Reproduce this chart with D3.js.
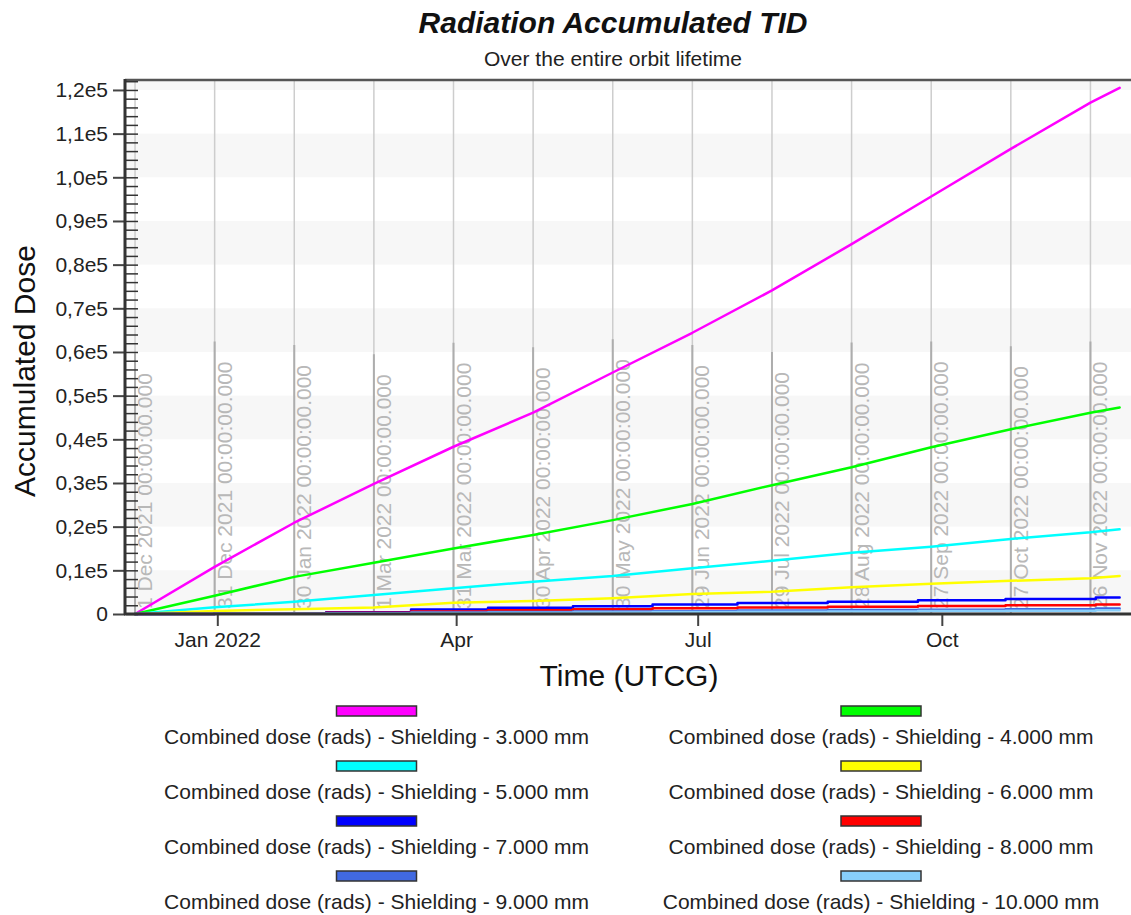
<!DOCTYPE html>
<html>
<head>
<meta charset="utf-8">
<script src="https://cdn.jsdelivr.net/npm/d3@7"></script>
<style>
  body { margin: 0; background: #fff; }
  svg { display: block; font-family: Arial, "Liberation Sans", sans-serif; }
</style>
</head>
<body>
<svg id="chart" width="1131" height="915"></svg>
<script>
// ---- data -------------------------------------------------------------
// Sampling dates for the smooth dose curves (UTC)
const sampleDates = ["2021-12-01","2021-12-31","2022-01-30","2022-03-01","2022-03-31","2022-04-30",
                     "2022-05-30","2022-06-29","2022-07-29","2022-08-28","2022-09-27","2022-10-27",
                     "2022-11-26","2022-12-07"];
const dose3mm = [0, 10800, 20900, 29800, 38300, 46100, 55300, 64400, 74100, 84700, 95600, 106500, 117100, 120500];
const dose4mm = [0, 4200, 8500, 11750, 15000, 18100, 21500, 25200, 29500, 33600, 38200, 42300, 46100, 47300];
const dose5mm = [0, 1530, 2800, 4350, 5900, 7400, 8700, 10500, 12200, 14000, 15400, 17200, 18700, 19400];
const dose6mm = [0, 700, 1100, 1500, 2600, 3000, 3600, 4600, 5100, 6100, 6900, 7600, 8200, 8700];

// Step dates for the heavily shielded (stair-like) curves
const stepDates = ["2021-12-01","2021-12-31","2022-02-11","2022-03-15","2022-04-13","2022-05-15",
                   "2022-06-14","2022-07-16","2022-08-19","2022-09-22","2022-10-25","2022-11-28","2022-12-07"];
const dose7mm  = [0, 150, 400, 1050, 1450, 1800, 2150, 2500, 2800, 3150, 3450, 3750, 3750];
const dose8mm  = [0, 100, 300, 600, 850, 1080, 1300, 1500, 1650, 1850, 2000, 2150, 2150];
const dose9mm  = [0, 80, 200, 350, 450, 550, 650, 800, 900, 1000, 1100, 1250, 1250];
const dose10mm = [0, 50, 120, 220, 300, 370, 450, 530, 600, 680, 750, 850, 850];

const seriesNames = [
  "Combined dose (rads) - Shielding - 3.000 mm",
  "Combined dose (rads) - Shielding - 4.000 mm",
  "Combined dose (rads) - Shielding - 5.000 mm",
  "Combined dose (rads) - Shielding - 6.000 mm",
  "Combined dose (rads) - Shielding - 7.000 mm",
  "Combined dose (rads) - Shielding - 8.000 mm",
  "Combined dose (rads) - Shielding - 9.000 mm",
  "Combined dose (rads) - Shielding - 10.000 mm"
];
const seriesColors = ["#ff00ff","#00ff00","#00ffff","#ffff00","#0000ff","#ff0000","#4169e1","#87cefa"];

// 30-day event markers
const markerDates = ["2021-12-01","2021-12-31","2022-01-30","2022-03-01","2022-03-31","2022-04-30",
                     "2022-05-30","2022-06-29","2022-07-29","2022-08-28","2022-09-27","2022-10-27","2022-11-26"];
const markerLabels = ["1 Dec 2021 00:00:00.000","31 Dec 2021 00:00:00.000","30 Jan 2022 00:00:00.000",
                      "1 Mar 2022 00:00:00.000","31 Mar 2022 00:00:00.000","30 Apr 2022 00:00:00.000",
                      "30 May 2022 00:00:00.000","29 Jun 2022 00:00:00.000","29 Jul 2022 00:00:00.000",
                      "28 Aug 2022 00:00:00.000","27 Sep 2022 00:00:00.000","27 Oct 2022 00:00:00.000",
                      "26 Nov 2022 00:00:00.000"];

// Axis ticks
const xTickDates  = ["2022-01-01","2022-04-01","2022-07-01","2022-10-01"];
const xTickLabels = ["Jan 2022","Apr","Jul","Oct"];
const yTickValues = [0,10000,20000,30000,40000,50000,60000,70000,80000,90000,100000,110000,120000];
const yTickLabels = ["0","0,1e5","0,2e5","0,3e5","0,4e5","0,5e5","0,6e5","0,7e5","0,8e5","0,9e5","1,0e5","1,1e5","1,2e5"];

// ---- layout -----------------------------------------------------------
const W = 1131, H = 915;
const plot = { left: 125, top: 80, right: 1131, bottom: 614 };
const parse = s => new Date(s + "T00:00:00Z");

const x = d3.scaleUtc()
  .domain([new Date(Date.UTC(2021, 10, 27, 5, 17)), new Date(Date.UTC(2022, 11, 11, 6, 43))])
  .range([plot.left, plot.right]);
const y = d3.scaleLinear().domain([0, 122280]).range([plot.bottom, plot.top]);

const svg = d3.select("#chart");

// Alternating horizontal bands
const bandStarts = yTickValues.filter((v, i) => i % 2 === 0);
svg.append("g").selectAll("rect").data(bandStarts).join("rect")
  .attr("x", plot.left)
  .attr("width", plot.right - plot.left + 10)
  .attr("y", d => y(Math.min(d + 10000, y.domain()[1])))
  .attr("height", d => y(d) - y(Math.min(d + 10000, y.domain()[1])))
  .attr("fill", "#f7f7f7");

// Full-height grid lines at marker dates
svg.append("g").selectAll("line").data(markerDates).join("line")
  .attr("x1", d => x(parse(d))).attr("x2", d => x(parse(d)))
  .attr("y1", plot.top).attr("y2", plot.bottom)
  .attr("stroke", "#cdcdcd").attr("stroke-width", 1.5);

// Marker labels and their lines
const markers = svg.append("g");
markerDates.forEach((d, i) => {
  const mx = x(parse(d));
  const t = markers.append("text")
    .attr("transform", `translate(${mx + 17},${plot.bottom - 5}) rotate(-90)`)
    .attr("text-anchor", "start")
    .attr("font-size", 21)
    .attr("fill", "#b8b8b8")
    .text(markerLabels[i]);
  const len = t.node().getComputedTextLength();
  markers.insert("line", "text")
    .attr("x1", mx).attr("x2", mx)
    .attr("y1", plot.bottom).attr("y2", plot.bottom - 5 - len - 20)
    .attr("stroke", "#adadad").attr("stroke-width", 2);
});

// Series lines
const smooth = [dose3mm, dose4mm, dose5mm, dose6mm];
const stepped = [dose7mm, dose8mm, dose9mm, dose10mm];
const lineGen = d3.line().x(d => x(d[0])).y(d => y(d[1]));
const stepGen = d3.line().x(d => x(d[0])).y(d => y(d[1])).curve(d3.curveStepAfter);
const lines = svg.append("g").attr("fill", "none").attr("stroke-width", 2.5)
  .attr("stroke-linejoin", "round").attr("stroke-linecap", "round");
smooth.forEach((vals, i) => {
  lines.append("path")
    .attr("d", lineGen(vals.map((v, j) => [parse(sampleDates[j]), v])))
    .attr("stroke", seriesColors[i]);
});
stepped.forEach((vals, i) => {
  lines.append("path")
    .attr("d", stepGen(vals.map((v, j) => [parse(stepDates[j]), v])))
    .attr("stroke", seriesColors[i + 4]);
});

// Top border
svg.append("line")
  .attr("x1", plot.left).attr("x2", plot.right + 5)
  .attr("y1", plot.top).attr("y2", plot.top)
  .attr("stroke", "#555").attr("stroke-width", 2.5);

// Y axis: labelled major ticks outside, minor ticks inside
const yAxis = d3.axisLeft(y).tickValues(yTickValues)
  .tickFormat((d, i) => yTickLabels[i]).tickSize(12).tickPadding(5);
const gy = svg.append("g").attr("transform", `translate(${plot.left},0)`).call(yAxis);
gy.select(".domain").remove();
gy.selectAll(".tick line").attr("stroke", "#444").attr("stroke-width", 2);
gy.selectAll(".tick text").attr("font-size", 21).attr("fill", "#222")
  .attr("font-family", "Arial, 'Liberation Sans', sans-serif");

const minorValues = d3.range(0, 122001, 2000);
const yMinor = d3.axisRight(y).tickValues(minorValues).tickFormat("").tickSize(12);
const gym = svg.append("g").attr("transform", `translate(${plot.left + 1},0)`).call(yMinor);
gym.select(".domain").remove();
gym.selectAll(".tick line").attr("stroke", "#333").attr("stroke-width", 1.5);

svg.append("line")
  .attr("x1", plot.left).attr("x2", plot.left)
  .attr("y1", plot.top - 1).attr("y2", plot.bottom + 1)
  .attr("stroke", "#333").attr("stroke-width", 3);

// X axis
const xAxis = d3.axisBottom(x).tickValues(xTickDates.map(parse))
  .tickFormat((d, i) => xTickLabels[i]).tickSize(12).tickPadding(6);
const gx = svg.append("g").attr("transform", `translate(0,${plot.bottom})`).call(xAxis);
gx.select(".domain").remove();
gx.selectAll(".tick line").attr("stroke", "#444").attr("stroke-width", 2);
gx.selectAll(".tick text").attr("font-size", 21).attr("fill", "#222")
  .attr("font-family", "Arial, 'Liberation Sans', sans-serif");

svg.append("line")
  .attr("x1", plot.left - 1).attr("x2", plot.right + 5)
  .attr("y1", plot.bottom).attr("y2", plot.bottom)
  .attr("stroke", "#333").attr("stroke-width", 3);

// Titles
svg.append("text").attr("x", 613).attr("y", 33).attr("text-anchor", "middle")
  .attr("font-size", 30).attr("font-weight", "bold").attr("font-style", "italic").attr("fill", "#111")
  .text("Radiation Accumulated TID");
svg.append("text").attr("x", 613).attr("y", 66).attr("text-anchor", "middle")
  .attr("font-size", 21).attr("fill", "#222")
  .text("Over the entire orbit lifetime");
svg.append("text").attr("x", 629).attr("y", 686).attr("text-anchor", "middle")
  .attr("font-size", 30).attr("fill", "#111")
  .text("Time (UTCG)");
svg.append("text").attr("transform", "translate(35,371) rotate(-90)").attr("text-anchor", "middle")
  .attr("font-size", 30).attr("fill", "#111")
  .text("Accumulated Dose");

// Legend: two columns, swatch above each label
const legend = svg.append("g");
const colCenters = [376.5, 881];
seriesNames.forEach((name, i) => {
  const cx = colCenters[i % 2];
  const row = Math.floor(i / 2);
  const top = 706 + row * 55;
  legend.append("rect")
    .attr("x", cx - 40).attr("y", top).attr("width", 80).attr("height", 10)
    .attr("fill", seriesColors[i]).attr("stroke", "#333").attr("stroke-width", 1.5);
  legend.append("text")
    .attr("x", cx).attr("y", top + 38).attr("text-anchor", "middle")
    .attr("font-size", 21).attr("fill", "#222")
    .text(name);
});
</script>
</body>
</html>
